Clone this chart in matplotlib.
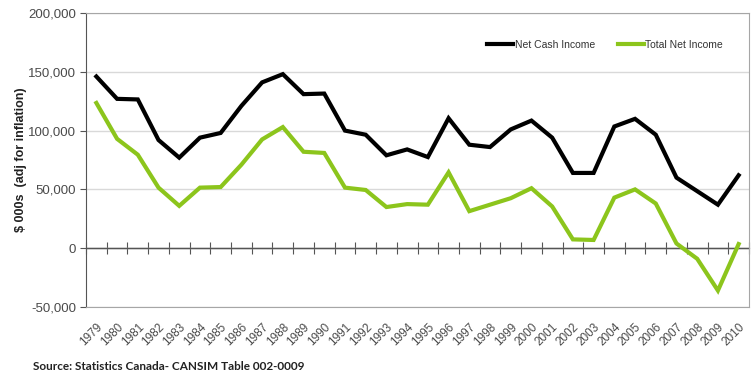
import numpy as np
import matplotlib
matplotlib.use("Agg")
from matplotlib import pyplot as plt
from matplotlib.ticker import FuncFormatter, MultipleLocator, FixedLocator

# Farm income by year, $000s adjusted for inflation
years = list(range(1979, 2011))
net_cash_income = [146, 127, 126.5, 92, 77, 94, 98, 121, 141, 148, 131, 131.5, 100, 96.5,
                   79, 84, 77.5, 110.5, 88, 86, 101, 108.5, 94, 64, 64, 103.5, 110, 96.5,
                   60, 48.5, 37, 62]
total_net_income = [123.5, 93, 79.5, 51.5, 36, 51.5, 52, 71, 92.5, 103, 82, 81, 51.5, 49.5,
                    35, 37.5, 37, 64.5, 31.5, 37, 42.5, 51, 35.5, 7.5, 7, 43, 50, 38,
                    4, -9, -36, 3.5]
net_cash_income = np.array(net_cash_income) * 1000
total_net_income = np.array(total_net_income) * 1000

plt.rcParams["font.family"] = "Liberation Sans"
txt = "#4a4a4a"
green = "#8cc51c"

fig = plt.figure(figsize=(7.54, 3.75), dpi=100)
ax = fig.add_axes([86 / 754, 1 - 307 / 375, 663 / 754, 294 / 375])

x = np.arange(len(years))
ax.plot(x, net_cash_income, color="black", lw=3, label="Net Cash Income",
        solid_joinstyle="miter", zorder=3)
ax.plot(x, total_net_income, color=green, lw=3, label="Total Net Income",
        solid_joinstyle="miter", zorder=3)

ax.set_xlim(-0.5, len(years) - 0.5)
ax.set_ylim(-50000, 200000)

# light horizontal gridlines
ax.yaxis.set_major_locator(MultipleLocator(50000))
ax.grid(axis="y", color="#d9d9d9", lw=1)
ax.set_axisbelow(True)
ax.yaxis.set_major_formatter(FuncFormatter(lambda v, p: f"{int(v):,}"))
ax.tick_params(axis="y", length=4, color="#555555", labelsize=9.5,
               labelcolor=txt, pad=3)

# year labels along the bottom
ax.set_xticks(x)
ax.set_xticklabels([str(y) for y in years], rotation=45, ha="right",
                   va="top", rotation_mode="anchor", fontsize=8.5, color=txt)
ax.tick_params(axis="x", length=0, pad=10)

for side in ["top", "right", "bottom"]:
    ax.spines[side].set_color("#a6a6a6")
ax.spines["left"].set_color("#555555")

# category axis drawn through zero with boundary ticks
ax.axhline(0, color="#555555", lw=1, zorder=2)
zero_axis = ax.secondary_xaxis(50000 / 250000)
zero_axis.xaxis.set_major_locator(FixedLocator(np.arange(len(years) + 1) - 0.5))
zero_axis.tick_params(axis="x", direction="inout", length=8, color="#555555",
                      labelbottom=False)

ax.set_ylabel("$ 000s  (adj for inflation)", fontsize=9, fontweight="bold",
              color="#222222", labelpad=1)

ax.legend(loc="upper right", bbox_to_anchor=(0.975, 0.94), ncol=2, frameon=False,
          fontsize=7.5, handlelength=2.5, handletextpad=0.15, columnspacing=2.2,
          labelcolor="#333333")

fig.text(33 / 754, 1 - 366 / 375, "Source: Statistics Canada- CANSIM Table 002-0009",
         fontsize=8.5, fontweight="bold", family="Lato", color="#222222", va="center")

fig.savefig("out.png", dpi=100)
